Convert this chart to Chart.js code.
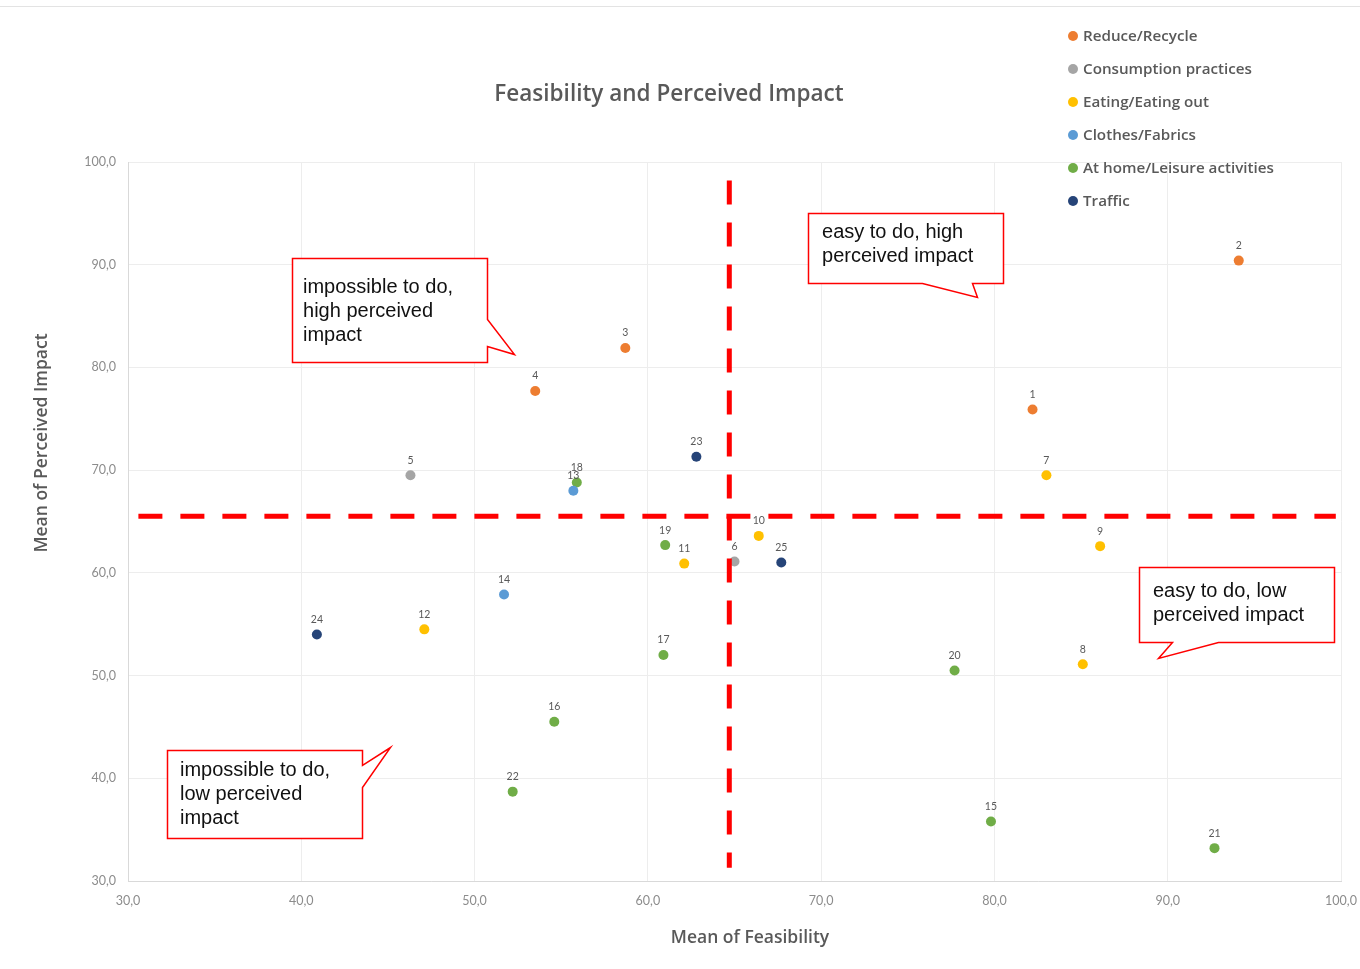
<!DOCTYPE html>
<html>
<head>
<meta charset="utf-8">
<title>Feasibility and Perceived Impact</title>
<script src="https://cdn.jsdelivr.net/npm/chart.js@4.4.1/dist/chart.umd.min.js"></script>
<style>
  html, body { margin: 0; padding: 0; background: #ffffff; }
  canvas { display: block; }
</style>
</head>
<body>
<canvas id="chart" width="1360" height="969"></canvas>
<script>
// ---- Data: measure number, mean feasibility (x), mean perceived impact (y) per category ----
const categories = ['Reduce/Recycle', 'Consumption practices', 'Eating/Eating out',
                    'Clothes/Fabrics', 'At home/Leisure activities', 'Traffic'];

const reduceIds      = [1, 2, 3, 4];
const reduceFeas     = [82.2, 94.1, 58.7, 53.5];
const reduceImpact   = [75.9, 90.4, 81.9, 77.7];

const consumeIds     = [5, 6];
const consumeFeas    = [46.3, 65.0];
const consumeImpact  = [69.5, 61.1];

const eatingIds      = [7, 8, 9, 10, 11, 12];
const eatingFeas     = [83.0, 85.1, 86.1, 66.4, 62.1, 47.1];
const eatingImpact   = [69.5, 51.1, 62.6, 63.6, 60.9, 54.5];

const clothesIds     = [13, 14];
const clothesFeas    = [55.7, 51.7];
const clothesImpact  = [68.0, 57.9];

const homeIds        = [15, 16, 17, 18, 19, 20, 21, 22];
const homeFeas       = [79.8, 54.6, 60.9, 55.9, 61.0, 77.7, 92.7, 52.2];
const homeImpact     = [35.8, 45.5, 52.0, 68.8, 62.7, 50.5, 33.2, 38.7];

const trafficIds     = [23, 24, 25];
const trafficFeas    = [62.8, 40.9, 67.7];
const trafficImpact  = [71.3, 54.0, 61.0];

// Quadrant dividers
const feasibilityThreshold = 64.7;
const impactThreshold = 65.5;
const dividerFeasRange = [30.6, 99.7];
const dividerImpactRange = [98.2, 31.3];

// Axis ticks
const axisMin = 30, axisMax = 100, axisStep = 10;

// ---- Styling ----
const categoryColors = ['#ED7D31', '#A5A5A5', '#FFC000', '#5B9BD5', '#70AD47', '#264478'];
const textGray = '#595959';
const uiFont = '"Open Sans", Lato, sans-serif';

function points(feas, impact) {
  return feas.map((f, i) => ({ x: f, y: impact[i] }));
}

const groups = [
  [reduceIds, reduceFeas, reduceImpact],
  [consumeIds, consumeFeas, consumeImpact],
  [eatingIds, eatingFeas, eatingImpact],
  [clothesIds, clothesFeas, clothesImpact],
  [homeIds, homeFeas, homeImpact],
  [trafficIds, trafficFeas, trafficImpact]
];

const dividerStyle = {
  type: 'line', showLine: true, borderColor: '#FF0000', borderWidth: 5,
  borderDash: [24, 18], pointRadius: 0, fill: false, order: -1
};

const datasets = [
  Object.assign({ label: 'divider-h',
    data: [{ x: dividerFeasRange[0], y: impactThreshold }, { x: dividerFeasRange[1], y: impactThreshold }] }, dividerStyle),
  Object.assign({ label: 'divider-v',
    data: [{ x: feasibilityThreshold, y: dividerImpactRange[0] }, { x: feasibilityThreshold, y: dividerImpactRange[1] }] }, dividerStyle)
].concat(groups.map((g, i) => ({
  type: 'scatter',
  label: categories[i],
  ids: g[0],
  data: points(g[1], g[2]),
  backgroundColor: categoryColors[i],
  borderColor: categoryColors[i],
  pointRadius: 5,
  pointBorderWidth: 0,
  order: 1
})));

// Speech-bubble annotations, outlined in data units
const callouts = [
  { lines: ['impossible to do,', 'high perceived', 'impact'], textAt: [40.10, 87.83],
    outline: [[39.46, 90.65], [50.72, 90.65], [50.72, 84.71], [52.27, 81.30], [50.72, 82.08], [50.72, 80.53], [39.46, 80.53]] },
  { lines: ['easy to do, high', 'perceived impact'], textAt: [70.05, 93.18],
    outline: [[69.24, 95.03], [80.49, 95.03], [80.49, 88.22], [78.70, 88.22], [78.99, 86.85], [75.82, 88.22], [69.24, 88.22]] },
  { lines: ['impossible to do,', 'low perceived', 'impact'], textAt: [33.00, 40.80],
    outline: [[32.25, 42.75], [43.50, 42.75], [43.50, 41.29], [45.12, 43.04], [43.50, 39.14], [43.50, 34.18], [32.25, 34.18]] },
  { lines: ['easy to do, low', 'perceived impact'], textAt: [89.15, 58.23],
    outline: [[88.34, 60.56], [99.59, 60.56], [99.59, 53.26], [92.90, 53.26], [89.43, 51.70], [90.24, 53.26], [88.34, 53.26]] }
];

const decorPlugin = {
  id: 'decor',
  beforeDraw(chart) {
    const ctx = chart.ctx;
    ctx.save();
    ctx.fillStyle = '#ffffff';
    ctx.fillRect(0, 0, chart.width, chart.height);
    ctx.strokeStyle = '#E3E3E3';
    ctx.lineWidth = 1;
    ctx.beginPath();
    ctx.moveTo(0, 6.5);
    ctx.lineTo(chart.width, 6.5);
    ctx.stroke();
    ctx.restore();
  },
  afterDatasetsDraw(chart) {
    const { ctx, scales: { x, y } } = chart;
    ctx.save();
    // Measure numbers above each point
    ctx.font = '10.5px Lato';
    ctx.fillStyle = textGray;
    ctx.textAlign = 'center';
    ctx.textBaseline = 'middle';
    chart.data.datasets.forEach((ds, di) => {
      if (!ds.ids) return;
      const meta = chart.getDatasetMeta(di);
      meta.data.forEach((el, i) => {
        ctx.fillText(String(ds.ids[i]), el.x, el.y - 15);
      });
    });

    // Callouts
    callouts.forEach(c => {
      ctx.beginPath();
      c.outline.forEach((p, i) => {
        const px = Math.round(x.getPixelForValue(p[0])) + 0.5;
        const py = Math.round(y.getPixelForValue(p[1])) + 0.5;
        if (i === 0) ctx.moveTo(px, py); else ctx.lineTo(px, py);
      });
      ctx.closePath();
      ctx.fillStyle = '#ffffff';
      ctx.fill();
      ctx.strokeStyle = '#FF0000';
      ctx.lineWidth = 1.5;
      ctx.stroke();
      ctx.fillStyle = '#111111';
      ctx.font = '20px "Liberation Sans", Arial, sans-serif';
      ctx.textAlign = 'left';
      ctx.textBaseline = 'middle';
      const tx = x.getPixelForValue(c.textAt[0]);
      const ty = y.getPixelForValue(c.textAt[1]);
      c.lines.forEach((line, i) => ctx.fillText(line, tx, ty + i * 24));
    });
    ctx.restore();
  },
  afterDraw(chart) {
    const { ctx, chartArea } = chart;
    ctx.save();
    ctx.fillStyle = textGray;
    // Title
    ctx.font = '600 22.5px ' + uiFont;
    ctx.textAlign = 'center';
    ctx.textBaseline = 'middle';
    ctx.fillText('Feasibility and Perceived Impact', 669, 95);
    // Axis titles
    ctx.font = '600 17.5px ' + uiFont;
    ctx.fillText('Mean of Feasibility', chartArea.left + 622, chartArea.bottom + 57);
    ctx.translate(42, chartArea.top + 281);
    ctx.rotate(-Math.PI / 2);
    ctx.fillText('Mean of Perceived Impact', 0, 0);
    ctx.restore();

    // Legend
    ctx.save();
    ctx.font = '600 15.2px ' + uiFont;
    ctx.textAlign = 'left';
    ctx.textBaseline = 'middle';
    let row = 0;
    chart.data.datasets.forEach(ds => {
      if (!ds.ids) return;
      const cy = 36 + row * 33;
      ctx.fillStyle = ds.backgroundColor;
      ctx.beginPath();
      ctx.arc(1073, cy, 5, 0, Math.PI * 2);
      ctx.fill();
      ctx.fillStyle = textGray;
      ctx.fillText(ds.label, 1083, cy + 1);
      row++;
    });
    ctx.restore();
  }
};

const fmt = v => v.toFixed(1).replace('.', ',');

const axisCommon = {
  type: 'linear',
  min: axisMin,
  max: axisMax,
  ticks: { stepSize: axisStep, color: '#8C8C8C', font: { family: 'Lato', size: 12.5 }, callback: fmt, maxRotation: 0, autoSkip: false },
  grid: { color: '#EDEDED', lineWidth: 1, drawTicks: false },
  border: { color: '#D9D9D9', width: 1 }
};

new Chart(document.getElementById('chart'), {
  type: 'scatter',
  data: { datasets },
  options: {
    responsive: false,
    animation: false,
    layout: { autoPadding: false, padding: { top: 162, right: 19, left: 0, bottom: 0 } },
    plugins: { legend: { display: false }, tooltip: { enabled: false }, title: { display: false } },
    scales: {
      x: Object.assign({}, axisCommon, {
        position: 'bottom',
        ticks: Object.assign({}, axisCommon.ticks, { padding: 12 }),
        afterFit(s) { s.height = 88; s.paddingLeft = 0; s.paddingRight = 0; }
      }),
      y: Object.assign({}, axisCommon, {
        position: 'left',
        ticks: Object.assign({}, axisCommon.ticks, { padding: 12 }),
        afterFit(s) { s.width = 128; s.paddingTop = 0; s.paddingBottom = 0; }
      })
    }
  },
  plugins: [decorPlugin]
});
</script>
</body>
</html>
